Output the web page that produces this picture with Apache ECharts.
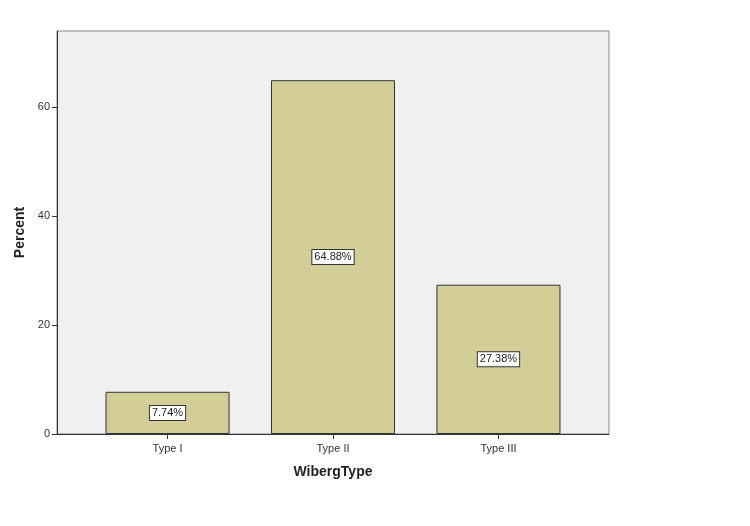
<!DOCTYPE html>
<html><head><meta charset="utf-8">
<script src="https://cdn.jsdelivr.net/npm/echarts@6/dist/echarts.min.js"></script>
<style>html,body{margin:0;padding:0;background:#fff}#c{width:750px;height:526px}</style>
</head><body><div id="c"></div>
<script>
const categories = ['Type I', 'Type II', 'Type III'];
const percents = [7.74, 64.88, 27.38];
const yTicks = [0, 20, 40, 60];

const chart = echarts.init(document.getElementById('c'), null, {renderer: 'canvas'});
const font = '"Liberation Sans", Arial, sans-serif';
chart.setOption({
  animation: false,
  backgroundColor: '#ffffff',
  grid: {left: 57, right: 141, top: 31, bottom: 92, show: true, backgroundColor: '#F0F0F0', borderColor: '#888', borderWidth: 1},
  xAxis: {
    type: 'value', min: -0.668, max: 2.668,
    name: 'WibergType', nameLocation: 'middle', nameGap: 31,
    nameTextStyle: {fontFamily: font, fontSize: 14, fontWeight: 'bold', color: '#222'},
    axisLine: {show: true, onZero: false, lineStyle: {color: '#333', width: 1}},
    axisTick: {show: true, length: 5, lineStyle: {color: '#333'}, customValues: [0, 1, 2]},
    axisLabel: {customValues: [0, 1, 2], formatter: v => categories[Math.round(v)] || '', fontFamily: font, fontSize: 11, color: '#333', margin: 9},
    splitLine: {show: false}
  },
  yAxis: {
    type: 'value', min: 0, max: 73.9,
    name: 'Percent', nameLocation: 'middle', nameGap: 24,
    nameTextStyle: {fontFamily: font, fontSize: 14, fontWeight: 'bold', color: '#222'},
    axisLine: {show: true, onZero: false, lineStyle: {color: '#333', width: 1}},
    axisTick: {show: true, length: 5, lineStyle: {color: '#333'}, customValues: yTicks},
    axisLabel: {customValues: yTicks, fontFamily: font, fontSize: 11, color: '#333', margin: 7},
    splitLine: {show: false}
  },
  series: [{
    type: 'bar', barWidth: 124,
    data: percents.map((v, i) => [i, v]),
    itemStyle: {color: '#D3CE97', borderColor: '#333', borderWidth: 1},
    label: {
      show: true, position: 'inside', formatter: p => p.value[1].toFixed(2) + '%',
      fontFamily: font, fontSize: 11, color: '#222',
      backgroundColor: '#fff', borderColor: '#333', borderWidth: 1, padding: [2, 2, 1, 2]
    }
  }]
});
</script></body></html>
